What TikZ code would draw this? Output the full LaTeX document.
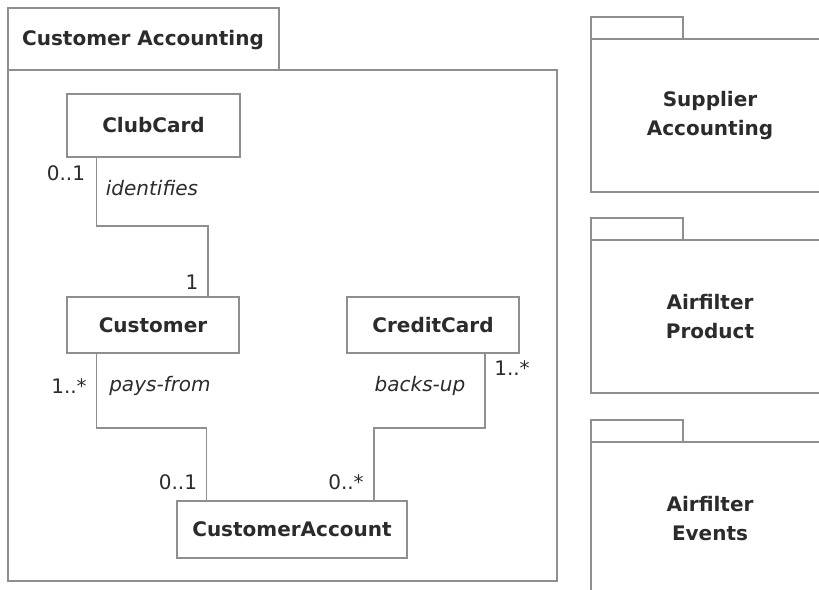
\documentclass[tikz,border=0pt]{standalone}
\usepackage{fontspec}
\setmainfont{DejaVu Sans}
\usetikzlibrary{positioning, calc}
\definecolor{wire}{gray}{0.56}
\definecolor{ink}{gray}{0.17}

\begin{document}
\begin{tikzpicture}[
  x=1pt, y=-1pt,
  every node/.style={text=ink, inner sep=0pt},
  pkg/.style={draw=wire, line width=1.5pt},
  pkgname/.style={font=\fontsize{20}{29}\selectfont\bfseries, align=center},
  cls/.style={draw=wire, line width=1.5pt, fill=white,
              font=\fontsize{20}{24}\selectfont\bfseries},
  assoc/.style={draw=wire, line width=1.5pt},
  mult/.style={font=\fontsize{20}{24}\selectfont},
  role/.style={font=\fontsize{20}{24}\selectfont\itshape},
]
\clip (0,0) rectangle (819,589);

% customer accounting package
\draw[pkg] (8,8) rectangle (279,70);
\draw[pkg] (8,70) rectangle (557,581);
\node[pkgname] (custacc) at (143,40) {Customer Accounting};

\node[cls, minimum width=173pt, minimum height=63pt] (clubcard) at (153.5,125.5) {ClubCard};
\node[cls, minimum width=172pt, minimum height=56pt] (customer) at (153,325) {Customer};
\node[cls, minimum width=172pt, minimum height=56pt] (creditcard) at (433,325) {CreditCard};
\node[cls, minimum width=230pt, minimum height=57pt] (account) at (292,529.5) {CustomerAccount};

\coordinate (idbend) at (150,226);
\coordinate (paybend) at (150,428);
\coordinate (backbend) at (430,428);

\draw[assoc] ([xshift=30pt]clubcard.south west) |- (idbend)
  -| ([xshift=-32pt]customer.north east);
\draw[assoc] ([xshift=30pt]customer.south west) |- (paybend)
  -| ([xshift=30pt]account.north west);
\draw[assoc] ([xshift=-35pt]creditcard.south east) |- (backbend)
  -| ([xshift=-34pt]account.north east);

\node[mult] (ccmult) at (66,173) {0..1};
\node[role] (identifies) at (152,188) {identifies};
\node[mult] (custmult) at (192,282) {1};
\node[mult] (paymult) at (69,386) {1..*};
\node[role] (paysfrom) at (160,386) {pays-from};
\node[role] (backsup) at (420,386) {backs-up};
\node[mult] (cardmult) at (512,368) {1..*};
\node[mult] (acctmult) at (178,482) {0..1};
\node[mult] (acctmulttwo) at (346,482) {0..*};

% other packages
\foreach \top/\name/\txt in {17/supplier/{Supplier\\Accounting},
                             218/product/{Airfilter\\Product},
                             420/events/{Airfilter\\Events}}{
  \draw[pkg] (591,\top) rectangle (683,\top+22);
  \draw[pkg] (591,\top+22) rectangle (840,\top+175);
  \node[pkgname] (\name) at (710,\top+98.5) {\txt};
}
\end{tikzpicture}
\end{document}
